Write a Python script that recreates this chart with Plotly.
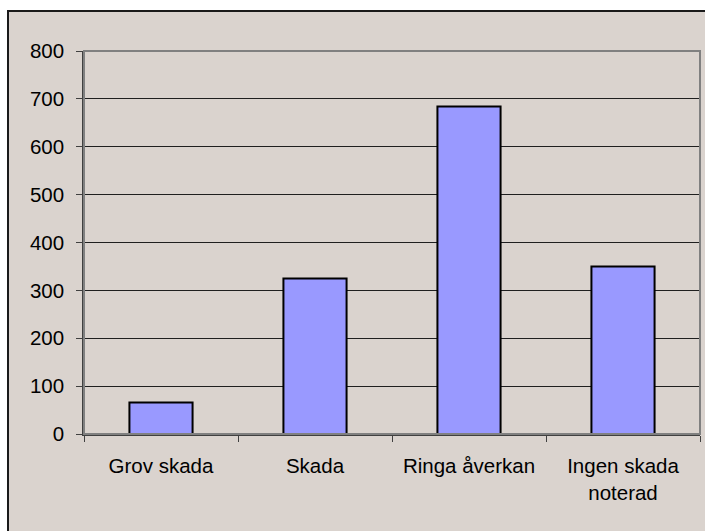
import plotly.graph_objects as go

# Damage categories and counts
categories = ["Grov skada", "Skada", "Ringa åverkan", "Ingen skada<br>noterad"]
counts = [66, 325, 684, 350]
y_ticks = [0, 100, 200, 300, 400, 500, 600, 700, 800]

W, H = 705, 531
L, R, T, B = 84, 5, 51, 96.5
pw = W - L - R
ph = H - T - B

def px_x(x):
    return (x - L) / pw

def px_y(y):
    return (H - B - y) / ph

font = dict(family="Liberation Sans, Arial, sans-serif", size=20.5, color="black")

fig = go.Figure(
    go.Bar(
        x=categories,
        y=counts,
        marker=dict(color="#9999FF", line=dict(color="black", width=2)),
        hoverinfo="skip",
    )
)

fig.update_layout(
    width=W,
    height=H,
    margin=dict(l=L, r=R, t=T, b=B, pad=0),
    paper_bgcolor="white",
    plot_bgcolor="#C0C0C0",
    bargap=0.59,
    showlegend=False,
    font=font,
    shapes=[
        # outer chart area
        dict(
            type="rect", xref="paper", yref="paper",
            x0=px_x(8), x1=px_x(730), y0=px_y(560), y1=px_y(11),
            fillcolor="#DAD3CE", line=dict(color="#1a1a1a", width=2),
            layer="below",
        ),
        # plot area border
        dict(
            type="rect", xref="paper", yref="paper",
            x0=0, x1=1, y0=0, y1=1,
            fillcolor="rgba(0,0,0,0)", line=dict(color="#808080", width=2),
            layer="above",
        ),
    ],
)

fig.update_xaxes(
    showgrid=False,
    showline=True,
    linecolor="#404040",
    linewidth=1.5,
    ticks="outside",
    tickson="boundaries",
    ticklen=6,
    tickcolor="#404040",
    tickfont=font,
    ticklabelstandoff=13,
    mirror=False,
)

fig.update_yaxes(
    range=[0, 800],
    tickvals=y_ticks,
    showgrid=True,
    gridcolor="#1f1f1f",
    gridwidth=1,
    zeroline=False,
    showline=True,
    linecolor="#404040",
    linewidth=1.5,
    ticks="outside",
    ticklen=6,
    tickcolor="#404040",
    tickfont=font,
    ticklabelstandoff=8,
)

fig.write_html("out.html")
